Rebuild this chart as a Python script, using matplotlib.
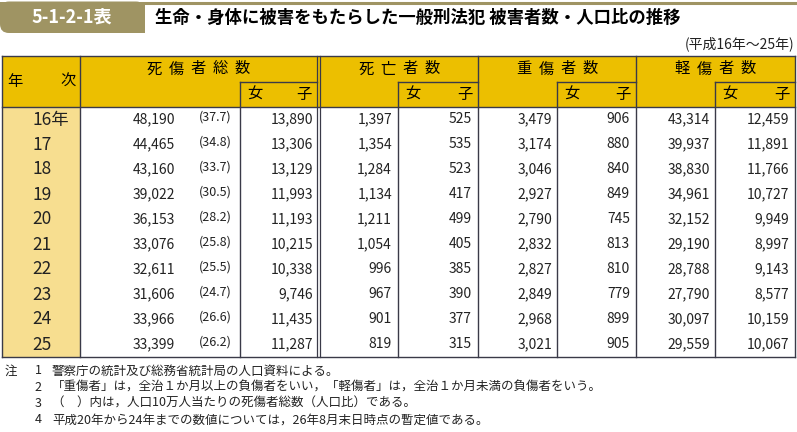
import matplotlib
matplotlib.use("Agg")
import matplotlib.pyplot as plt
from matplotlib.patches import Rectangle, FancyBboxPatch

plt.rcParams['font.family'] = ['Noto Sans CJK JP', 'DejaVu Sans']

# data
years = ["16年", "17", "18", "19", "20", "21", "22", "23", "24", "25"]
total = [48190, 44465, 43160, 39022, 36153, 33076, 32611, 31606, 33966, 33399]
total_rate = [37.7, 34.8, 33.7, 30.5, 28.2, 25.8, 25.5, 24.7, 26.6, 26.2]
total_f = [13890, 13306, 13129, 11993, 11193, 10215, 10338, 9746, 11435, 11287]
dead = [1397, 1354, 1284, 1134, 1211, 1054, 996, 967, 901, 819]
dead_f = [525, 535, 523, 417, 499, 405, 385, 390, 377, 315]
serious = [3479, 3174, 3046, 2927, 2790, 2832, 2827, 2849, 2968, 3021]
serious_f = [906, 880, 840, 849, 745, 813, 810, 779, 899, 905]
minor = [43314, 39937, 38830, 34961, 32152, 29190, 28788, 27790, 30097, 29559]
minor_f = [12459, 11891, 11766, 10727, 9949, 8997, 9143, 8577, 10159, 10067]

group_names = ["死傷者総数", "死亡者数", "重傷者数", "軽傷者数"]
title_no = "5-1-2-1表"
title = "生命・身体に被害をもたらした一般刑法犯 被害者数・人口比の推移"
period = "(平成16年～25年)"
notes = [
    ("注", "1", "警察庁の統計及び総務省統計局の人口資料による。"),
    ("", "2", "「重傷者」は，全治１か月以上の負傷者をいい，「軽傷者」は，全治１か月未満の負傷者をいう。"),
    ("", "3", "（　）内は，人口10万人当たりの死傷者総数（人口比）である。"),
    ("", "4", "平成20年から24年までの数値については，26年8月末日時点の暫定値である。"),
]

HEAD = "#ecbf00"
YEARBG = "#f7de90"
OLIVE = "#9f9463"
LINE = "#3a3a48"

fig = plt.figure(figsize=(7.97, 4.32), dpi=100)
ax = fig.add_axes([0, 0, 1, 1])
ax.set_xlim(0, 797)
ax.set_ylim(432, 0)
ax.axis("off")

# title bar
ax.plot([140, 797], [2.5, 2.5], color=OLIVE, lw=2.2, solid_capstyle="butt")
ax.add_patch(FancyBboxPatch((0, 1.5), 145, 31.5, boxstyle="round,pad=0,rounding_size=9",
                            fc=OLIVE, ec="none"))
ax.add_patch(Rectangle((0, 1.5), 145, 14, fc=OLIVE, ec="none"))
ax.add_patch(Rectangle((120, 1.5), 25, 31.5, fc=OLIVE, ec="none"))
ax.text(72, 17.5, title_no, color="white", fontsize=13, fontweight="bold",
        ha="center", va="center")
ax.text(155, 17.5, title, color="black", fontsize=12.5, fontweight="bold",
        ha="left", va="center")
ax.text(794, 44, period, fontsize=10, ha="right", va="center", color="#222222")

# table layout
left, right = 2, 795
top, mid, hbot = 56, 82, 106.5
rowh = 25
ycol = 80
groups = [(80, 240, 317), (320, 398, 478), (478, 557, 636), (636, 715, 795)]
bottom = hbot + rowh * len(years)

ax.add_patch(Rectangle((left, top), right - left, hbot - top, fc=HEAD, ec="none"))
ax.add_patch(Rectangle((left, hbot), ycol - left, bottom - hbot, fc=YEARBG, ec="none"))


def line(x0, y0, x1, y1, lw=1.0):
    ax.plot([x0, x1], [y0, y1], color=LINE, lw=lw, solid_capstyle="projecting")


# outer & header lines
line(left, top, right, top)
line(left, bottom, right, bottom)
line(left, hbot, right, hbot)
line(left, top, left, bottom)
line(right, top, right, bottom)
line(ycol, top, ycol, bottom)
line(317, top, 317, bottom, 0.9)
line(320, top, 320, bottom, 0.9)
for g0, gf, g1 in groups[1:]:
    if g0 != 320:
        line(g0, top, g0, bottom)
for g0, gf, g1 in groups:
    line(gf, mid, gf, bottom)
    line(gf, mid, g1, mid)

# header text
hy1, hy2 = 69, 94.5
ax.text(7, (top + hbot) / 2, "年", fontsize=11, ha="left", va="center")
ax.text(76, (top + hbot) / 2, "次", fontsize=11, ha="right", va="center")
step = 22
for (g0, gf, g1), name in zip(groups, group_names):
    c = (g0 + g1) / 2
    n = len(name)
    for i, ch in enumerate(name):
        ax.text(c + (i - (n - 1) / 2) * step, hy1, ch, fontsize=11, ha="center", va="center")
    ax.text(gf + 7, hy2, "女", fontsize=11, ha="left", va="center")
    ax.text(g1 - 5, hy2, "子", fontsize=11, ha="right", va="center")

# body
cols = [(total, 175), (total_f, 313), (dead, 392), (dead_f, 472),
        (serious, 552), (serious_f, 630), (minor, 710), (minor_f, 789)]
for r, yr in enumerate(years):
    yc = hbot + rowh * r + rowh / 2
    ax.text(32, yc + 0.5, yr, fontsize=12.5, ha="left", va="center", color="#222222")
    for vals, xr in cols:
        ax.text(xr, yc, f"{vals[r]:,}", fontsize=10, ha="right", va="center", color="#222222")
    ax.text(232, yc - 1.5, f"({total_rate[r]:.1f})", fontsize=9, ha="right", va="center",
            color="#222222")

# notes
for i, (a, b, t) in enumerate(notes):
    y = 371 + 16.3 * i
    ax.text(5, y, a, fontsize=9, ha="left", va="center", color="#222222")
    ax.text(38, y, b, fontsize=9, ha="center", va="center", color="#222222")
    ax.text(52, y, t, fontsize=9, ha="left", va="center", color="#222222")

fig.savefig("out.png", dpi=100)
